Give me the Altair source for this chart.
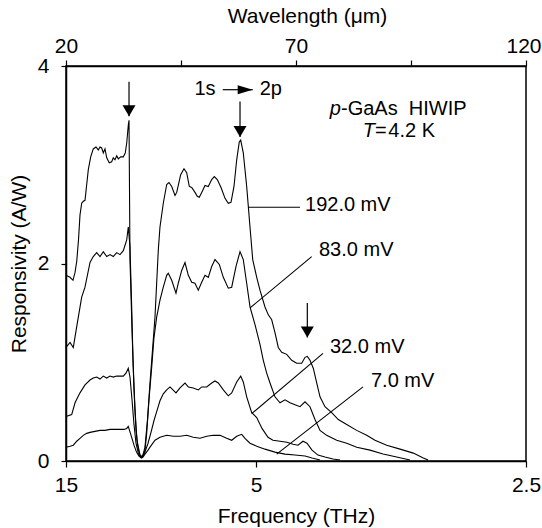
import altair as alt
import pandas as pd

# ---- data: wavelength (um) and responsivity (A/W) ----
series_names = ["192.0 mV", "83.0 mV", "32.0 mV", "7.0 mV"]

lam_192 = [20.0, 20.87, 21.52, 21.96, 22.33, 22.72, 23.04, 23.41, 23.76, 24.13, 24.50, 24.85, 25.37, 25.93,
           26.52, 27.02, 27.39, 27.76, 28.11, 28.48, 28.85, 29.41, 29.93, 30.28, 30.65, 31.02, 31.37, 31.89,
           32.46, 32.89, 33.20, 33.54, 33.70, 33.91, 34.35, 34.78, 35.22, 35.65, 36.20, 36.74, 37.17, 37.72,
           38.26, 38.80, 39.35, 40.07, 40.43, 41.15, 41.89, 42.39, 42.98, 43.70, 44.07, 44.93, 45.65, 46.24,
           46.80, 47.33, 48.04, 48.54, 48.98, 49.50, 50.22, 50.93, 51.67, 52.24, 52.89, 53.70, 54.57, 55.28,
           55.87, 56.52, 57.11, 57.67, 57.98, 58.54, 59.28, 60.0, 60.59, 61.46, 62.17, 63.26, 63.98, 64.72,
           65.43, 66.15, 66.89, 67.98, 69.07, 70.15, 71.24, 71.96, 72.46, 73.04, 73.76, 74.50, 75.22, 76.30,
           77.76, 79.20, 81.02, 83.20, 85.37, 87.17, 89.72, 92.61, 95.50, 97.67, 98.70]
r_192 = [1.88, 1.86, 1.83, 1.91, 2.02, 2.24, 2.49, 2.61, 2.63, 2.64, 2.80, 2.95, 3.08, 3.16,
         3.18, 3.15, 3.18, 3.17, 3.12, 3.16, 3.07, 3.02, 3.03, 3.07, 3.05, 3.09, 3.06, 3.08,
         3.08, 3.12, 3.22, 3.40, 3.45, 2.04, 1.33, 0.72, 0.31, 0.13, 0.04, 0.06, 0.14, 0.42,
         0.79, 1.12, 1.46, 2.14, 2.37, 2.61, 2.80, 2.82, 2.78, 2.69, 2.72, 2.90, 2.96, 2.92,
         2.78, 2.77, 2.72, 2.68, 2.67, 2.72, 2.79, 2.78, 2.85, 2.88, 2.85, 2.77, 2.66, 2.61,
         2.62, 2.78, 3.05, 3.23, 3.25, 3.12, 2.78, 2.37, 2.04, 1.86, 1.73, 1.56, 1.48, 1.43,
         1.30, 1.15, 1.10, 1.08, 1.02, 0.99, 0.99, 1.05, 1.06, 1.02, 0.94, 0.79, 0.65, 0.55,
         0.49, 0.42, 0.37, 0.31, 0.26, 0.21, 0.16, 0.12, 0.08, 0.03, 0.01]

lam_83 = [20.0, 20.87, 21.59, 22.33, 23.41, 24.13, 25.22, 25.93, 26.67, 27.39, 28.11, 28.85, 29.57, 30.28,
          31.02, 31.74, 32.46, 33.20, 33.54, 33.91, 34.24, 34.57, 35.0, 35.43, 36.09, 36.52, 37.17, 37.54,
          38.04, 38.63, 39.13, 39.72, 40.43, 41.15, 41.89, 42.24, 42.98, 43.91, 44.41, 45.15, 45.87, 46.59,
          47.33, 48.04, 48.76, 49.50, 50.22, 50.93, 51.67, 52.39, 53.33, 54.20, 55.28, 56.02, 56.96, 57.83,
          58.54, 59.28, 60.0, 61.09, 62.17, 62.89, 63.63, 64.35, 65.43, 66.52, 67.61, 68.70, 69.78, 70.87,
          71.96, 73.04, 74.13, 75.22, 76.67, 78.85, 81.02, 83.20, 86.09, 88.91, 91.89, 94.78]
r_83 = [1.15, 1.20, 1.15, 1.36, 1.66, 1.76, 2.01, 2.07, 2.11, 2.07, 2.12, 2.07, 2.09, 2.07,
        2.11, 2.09, 2.13, 2.24, 2.37, 2.17, 1.63, 1.02, 0.52, 0.21, 0.06, 0.04, 0.11, 0.28,
        0.62, 0.95, 1.25, 1.46, 1.63, 1.76, 1.88, 1.90, 1.83, 1.70, 1.80, 1.93, 2.01, 1.88,
        1.81, 1.80, 1.73, 1.81, 1.88, 1.86, 1.97, 2.04, 1.99, 1.86, 1.75, 1.76, 1.97, 2.12,
        2.04, 1.80, 1.56, 1.38, 1.18, 1.02, 0.89, 0.79, 0.65, 0.59, 0.62, 0.59, 0.57, 0.55,
        0.60, 0.55, 0.42, 0.31, 0.26, 0.21, 0.18, 0.14, 0.11, 0.07, 0.04, 0.01]

lam_32 = [20.0, 21.24, 21.96, 23.04, 24.13, 25.22, 25.93, 26.67, 27.39, 28.11, 28.85, 29.57, 30.28, 31.02,
          31.74, 32.46, 33.04, 33.54, 33.91, 34.35, 34.78, 35.22, 35.76, 36.30, 36.74, 37.17, 37.83, 38.48,
          39.13, 39.78, 40.43, 41.15, 41.89, 42.61, 43.91, 44.78, 45.87, 46.59, 47.67, 48.76, 49.50, 50.59,
          51.67, 52.39, 53.11, 54.20, 55.28, 56.02, 57.11, 57.98, 58.54, 59.28, 60.37, 61.46, 62.61, 63.91,
          65.0, 66.52, 68.04, 69.35, 70.43, 71.52, 72.39, 73.48, 74.78, 76.30, 78.04, 79.57]
r_32 = [0.45, 0.47, 0.59, 0.69, 0.77, 0.82, 0.84, 0.85, 0.83, 0.86, 0.84, 0.86, 0.85, 0.86,
        0.86, 0.86, 0.89, 0.94, 0.85, 0.62, 0.37, 0.18, 0.07, 0.04, 0.05, 0.09, 0.18, 0.29,
        0.41, 0.51, 0.61, 0.68, 0.72, 0.75, 0.69, 0.74, 0.79, 0.75, 0.74, 0.72, 0.75, 0.75,
        0.79, 0.81, 0.79, 0.72, 0.66, 0.69, 0.80, 0.86, 0.80, 0.65, 0.49, 0.44, 0.33, 0.24,
        0.21, 0.20, 0.19, 0.17, 0.16, 0.20, 0.18, 0.11, 0.06, 0.04, 0.02, 0.01]

lam_7 = [20.0, 20.87, 21.59, 22.33, 23.04, 23.76, 24.50, 25.22, 26.30, 27.39, 28.48, 29.57, 30.65, 31.74,
         32.61, 33.20, 33.54, 34.28, 34.78, 35.33, 35.87, 36.41, 36.74, 37.17, 37.83, 38.26, 39.35, 40.43,
         41.89, 43.33, 44.78, 46.24, 47.67, 49.13, 50.59, 52.02, 53.48, 54.93, 56.02, 57.11, 58.20, 58.91,
         60.0, 61.46, 63.26, 65.43, 67.61, 69.78, 71.96, 73.48, 75.22]
r_7 = [0.14, 0.15, 0.16, 0.20, 0.23, 0.26, 0.28, 0.29, 0.30, 0.31, 0.31, 0.32, 0.32, 0.32,
       0.32, 0.33, 0.35, 0.24, 0.16, 0.09, 0.05, 0.03, 0.04, 0.07, 0.11, 0.14, 0.21, 0.24,
       0.26, 0.25, 0.25, 0.26, 0.24, 0.23, 0.25, 0.26, 0.26, 0.23, 0.21, 0.25, 0.27, 0.23,
       0.18, 0.15, 0.12, 0.09, 0.07, 0.06, 0.05, 0.03, 0.01]

# axis ticks
bottom_tick_lam = [20, 61.3, 120]
bottom_tick_text = ["15", "5", "2.5"]
top_tick_lam = [20, 45, 70, 95, 120]
top_tick_labelled = [20, 70, 120]
y_ticks = [0, 2, 4]

# leader lines from the bias labels to their curves
leader_x1 = [59.57, 60.0, 60.37, 65.8]
leader_y1 = [2.57, 1.55, 0.48, 0.07]
leader_x2 = [70.87, 73.41, 75.87, 84.57]
leader_y2 = [2.57, 2.07, 1.09, 0.75]
label_x = [71.96, 75.0, 77.39, 86.3]
label_y = [2.59, 2.14, 1.15, 0.81]

# vertical marker arrows
arrow_x = [33.70, 57.83, 72.46]
arrow_top = [3.84, 3.64, 1.60]
arrow_tip = [3.49, 3.28, 1.25]

# 1s -> 2p annotation
trans_arrow_x = [54.07, 60.59]
trans_arrow_y = 3.76
trans_text = ["1s", "2p"]
trans_text_x = [47.93, 62.1]
trans_text_y = 3.71

FONT = "Liberation Sans"
FS = 21
AFS = 20

rows = []
for name, lams, rs in zip(series_names, [lam_192, lam_83, lam_32, lam_7], [r_192, r_83, r_32, r_7]):
    for i, (l, r) in enumerate(zip(lams, rs)):
        rows.append({"series": name, "i": i, "lam": l, "r": r})
df = pd.DataFrame(rows)

xs = alt.Scale(domain=[20, 120], nice=False, zero=False)
ys = alt.Scale(domain=[0, 4], nice=False, zero=False)

bottom_expr = " : ".join(
    [f"abs(datum.value - {v}) < 0.01 ? '{t}'" for v, t in zip(bottom_tick_lam, bottom_tick_text)]
) + " : ''"
top_expr = " || ".join([f"datum.value == {v}" for v in top_tick_labelled]) + " ? datum.label : ''"

lines = alt.Chart(df).mark_line(color="black", strokeWidth=1.1).encode(
    x=alt.X("lam:Q", scale=xs, axis=alt.Axis(
        orient="bottom", values=bottom_tick_lam, labelExpr=bottom_expr,
        title="Frequency (THz)", tickSize=6, labelPadding=24, labelBaseline="alphabetic",
        titleY=61, titleBaseline="alphabetic")),
    y=alt.Y("r:Q", scale=ys, axis=alt.Axis(
        values=y_ticks, title="Responsivity (A/W)", tickSize=5, labelPadding=12,
        titleAngle=270, titleBaseline="alphabetic", titleAlign="center", titleX=-41, titleY=197.5)),
    detail="series:N",
    order="i:Q",
)

lead_df = pd.DataFrame({"x1": leader_x1, "y1": leader_y1, "x2": leader_x2, "y2": leader_y2})
leaders = alt.Chart(lead_df).mark_rule(color="black", strokeWidth=1.1).encode(
    x=alt.X("x1:Q", scale=xs, axis=alt.Axis(
        orient="top", values=top_tick_lam, labelExpr=top_expr, title="Wavelength (\u03bcm)",
        tickSize=6, labelPadding=8, labelBaseline="alphabetic",
        labelOffset={"condition": {"test": "datum.value == 120", "value": -2.5}, "value": 0},
        titleX=241, titleY=-43.5, titleBaseline="alphabetic")),
    y=alt.Y("y1:Q", scale=ys, axis=None),
    x2="x2:Q", y2="y2:Q",
)

lab_df = pd.DataFrame({"x": label_x, "y": label_y, "t": series_names})
labels = alt.Chart(lab_df).mark_text(font=FONT, fontSize=AFS, align="left", baseline="middle", color="black").encode(
    x=alt.X("x:Q", scale=xs, axis=None), y=alt.Y("y:Q", scale=ys, axis=None), text="t:N")

arr_df = pd.DataFrame({"x": arrow_x, "top": arrow_top, "tip": arrow_tip})
arr_lines = alt.Chart(arr_df).mark_rule(color="black", strokeWidth=1.2).encode(
    x=alt.X("x:Q", scale=xs, axis=None), y=alt.Y("top:Q", scale=ys, axis=None), y2="tip:Q")
arr_heads = alt.Chart(arr_df).mark_point(
    shape="M0,0L-1,-1.7L1,-1.7Z", size=169, filled=True, color="black", opacity=1, strokeWidth=0
).encode(x=alt.X("x:Q", scale=xs, axis=None), y=alt.Y("tip:Q", scale=ys, axis=None))

h_df = pd.DataFrame({"x1": [trans_arrow_x[0]], "x2": [trans_arrow_x[1]], "y": [trans_arrow_y]})
h_line = alt.Chart(h_df).mark_rule(color="black", strokeWidth=1.2).encode(
    x=alt.X("x1:Q", scale=xs, axis=None), x2="x2:Q", y=alt.Y("y:Q", scale=ys, axis=None))
h_head = alt.Chart(h_df).mark_point(
    shape="M0,0L-2,-0.6L-2,0.6Z", size=225, filled=True, color="black", opacity=1, strokeWidth=0
).encode(x=alt.X("x2:Q", scale=xs, axis=None), y=alt.Y("y:Q", scale=ys, axis=None))

tt_df = pd.DataFrame({"x": trans_text_x, "y": [trans_text_y] * 2, "t": trans_text})
trans_labels = alt.Chart(tt_df).mark_text(font=FONT, fontSize=AFS, align="left", baseline="alphabetic", color="black").encode(
    x=alt.X("x:Q", scale=xs, axis=None), y=alt.Y("y:Q", scale=ys, axis=None), text="t:N")

# sample / temperature note (italic p and T)
note_x = [79.78, 87.17]
note_y = [3.50, 3.28]
note_italic = ["p", "T"]
note_rest = ["-GaAs\u00a0\u00a0HIWIP", "\u2009=\u200a4.2 K"]
note_df = pd.DataFrame({"x": note_x, "y": note_y, "a": note_italic, "b": note_rest})
note_it = alt.Chart(note_df).mark_text(font=FONT, fontSize=AFS, fontStyle="italic", align="right",
                                       baseline="alphabetic", color="black").encode(
    x=alt.X("x:Q", scale=xs, axis=None), y=alt.Y("y:Q", scale=ys, axis=None), text="a:N")
note_rt = alt.Chart(note_df).mark_text(font=FONT, fontSize=AFS, align="left",
                                       baseline="alphabetic", color="black").encode(
    x=alt.X("x:Q", scale=xs, axis=None), y=alt.Y("y:Q", scale=ys, axis=None), text="b:N")

chart = alt.layer(
    lines, leaders, labels, arr_lines, arr_heads, h_line, h_head, trans_labels, note_it, note_rt
).resolve_axis(x="independent", y="independent").properties(
    width=460, height=395,
    autosize=alt.AutoSizeParams(type="none"),
    padding={"left": 66, "top": 66, "right": 16, "bottom": 67},
    background="white",
).configure_view(
    stroke="black", strokeWidth=1.5
).configure_axis(
    grid=False, domainColor="black", domainWidth=1.5, tickColor="black", tickWidth=1.2,
    labelColor="black", titleColor="black", labelFont=FONT, titleFont=FONT,
    labelFontSize=FS, titleFontSize=FS, titleFontWeight="normal", labelFlush=False, labelOverlap=False,
)

chart.save("out.html", embed_options={"renderer": "svg", "actions": False})
